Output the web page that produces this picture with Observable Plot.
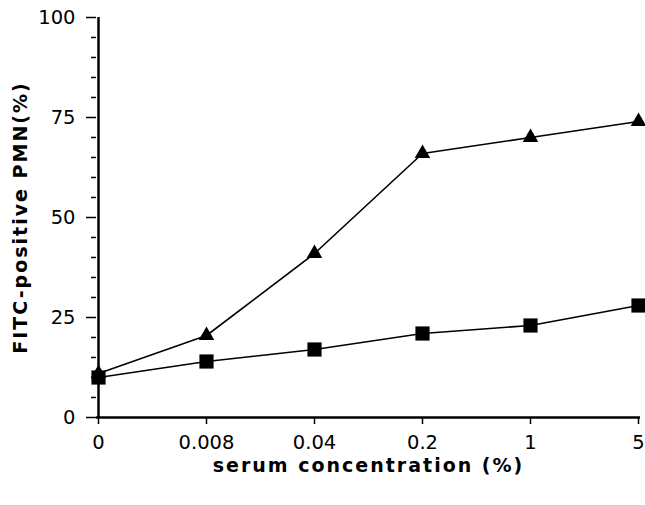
<!DOCTYPE html>
<html>
<head>
<meta charset="utf-8">
<script src="https://cdn.jsdelivr.net/npm/d3@7"></script>
<script src="https://cdn.jsdelivr.net/npm/@observablehq/plot@0.6"></script>
<style>
  html, body { margin: 0; padding: 0; background: #fff; }
  #chart svg { overflow: visible; }
  #chart g[aria-label="x-axis label"] text,
  #chart g[aria-label="y-axis label"] text {
    font-weight: bold;
    font-size: 19px;
    letter-spacing: 2px;
  }
</style>
</head>
<body>
<div id="chart"></div>
<script>
// Serum concentrations (%), plotted as evenly spaced categories
const concentrations = ["0", "0.008", "0.04", "0.2", "1", "5"];
// FITC-positive PMN (%) for the two series
const triangleSeries = [11, 20.5, 41, 66, 70, 74];
const squareSeries = [10, 14, 17, 21, 23, 28];
// Y-axis ticks
const majorTicks = [0, 25, 50, 75, 100];
const minorTicks = d3.range(0, 101, 5).filter(v => v % 25 !== 0);

const triRows = concentrations.map((c, i) => ({c, v: triangleSeries[i]}));
const sqRows = concentrations.map((c, i) => ({c, v: squareSeries[i]}));

const font = "'DejaVu Sans', 'Liberation Sans', sans-serif";

const chart = Plot.plot({
  width: 645,
  height: 505,
  marginLeft: 96,
  marginRight: 5,
  marginTop: 17,
  marginBottom: 88,
  style: {fontFamily: font, fontSize: "19.5px", color: "#000", background: "#fff"},
  x: {type: "point", domain: concentrations, padding: 0},
  y: {domain: [0, 100]},
  marks: [
    // minor ticks on the y axis
    Plot.axisY({ticks: minorTicks, tickSize: 5, tickFormat: () => "", strokeWidth: 1.5, label: null}),
    // major ticks with labels
    Plot.axisY({
      ticks: majorTicks, tickSize: 10, tickPadding: 11, strokeWidth: 1.5, fontSize: 19.5,
      label: "FITC-positive PMN(%)", labelAnchor: "center", labelArrow: "none", labelOffset: 83
    }),
    Plot.axisX({
      tickSize: 7, tickPadding: 11, strokeWidth: 1.5, fontSize: 19.5,
      label: "serum concentration (%)", labelAnchor: "center", labelArrow: "none", labelOffset: 54
    }),
    // axis lines
    Plot.ruleY([0], {stroke: "#000", strokeWidth: 2.5}),
    Plot.ruleX(["0"], {y1: 0, y2: 100, stroke: "#000", strokeWidth: 2.5}),
    // series
    Plot.line(triRows, {x: "c", y: "v", stroke: "#000", strokeWidth: 1.6}),
    Plot.line(sqRows, {x: "c", y: "v", stroke: "#000", strokeWidth: 1.6}),
    Plot.dot(triRows, {x: "c", y: "v", symbol: "triangle", r: 5.8, fill: "#000", stroke: "none"}),
    Plot.dot(sqRows, {x: "c", y: "v", symbol: "square", r: 8, fill: "#000", stroke: "none"})
  ]
});

document.getElementById("chart").appendChild(chart);
</script>
</body>
</html>
